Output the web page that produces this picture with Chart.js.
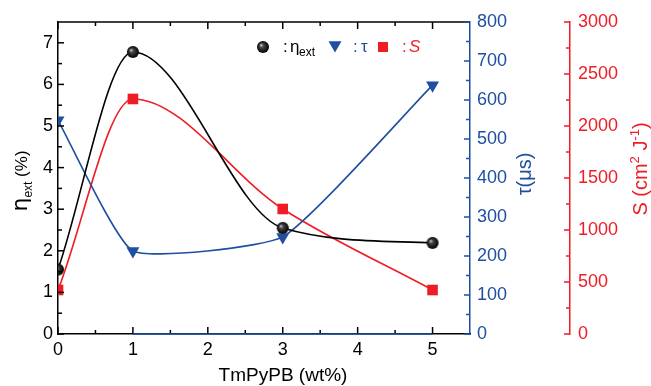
<!DOCTYPE html>
<html>
<head>
<meta charset="utf-8">
<script src="https://cdn.jsdelivr.net/npm/chart.js@4/dist/chart.umd.min.js"></script>
<style>
html,body{margin:0;padding:0;background:#fff;}
#wrap{width:651px;height:386px;position:relative;}
</style>
</head>
<body>
<div id="wrap"><canvas id="c" width="651" height="386"></canvas></div>
<script>
// ---- data ----
const xValues = [0, 1, 3, 5];              // TmPyPB (wt%)
const etaValues = [1.55, 6.78, 2.55, 2.19]; // eta_ext (%)
const tauValues = [548, 213, 249, 638];     // tau (us)
const sValues = [423, 2260, 1202, 423];     // S (cm2 J-1)
const xTicks = [0, 1, 2, 3, 4, 5];
const etaTicks = [0, 1, 2, 3, 4, 5, 6, 7];
const tauTicks = [0, 100, 200, 300, 400, 500, 600, 700, 800];
const sTicks = [0, 500, 1000, 1500, 2000, 2500, 3000];

const BLACK = '#000000';
const BLUE = '#1f4fa0';
const RED = '#ee1c25';
const FONT = "'Liberation Sans', Arial, sans-serif";

function makeSphere(r) {
  const c = document.createElement('canvas');
  c.width = c.height = r * 2 + 2;
  const g = c.getContext('2d');
  const cx = r + 1, cy = r + 1;
  const grad = g.createRadialGradient(cx - r * 0.35, cy - r * 0.35, 0, cx, cy, r);
  grad.addColorStop(0, '#d8d8d8');
  grad.addColorStop(0.35, '#444');
  grad.addColorStop(1, '#000');
  g.fillStyle = grad;
  g.beginPath(); g.arc(cx, cy, r, 0, Math.PI * 2); g.fill();
  return c;
}
const sphere = makeSphere(6);

function pts(vals) { return xValues.map((x, i) => ({x: x, y: vals[i]})); }

function drawTri(ctx, x, y, r, color) {
  ctx.fillStyle = color;
  ctx.beginPath();
  ctx.moveTo(x, y + r);
  ctx.lineTo(x - r * Math.sqrt(3) / 2, y - r / 2);
  ctx.lineTo(x + r * Math.sqrt(3) / 2, y - r / 2);
  ctx.closePath();
  ctx.fill();
}

function richWidth(ctx, parts) {
  let w = 0;
  for (const p of parts) { ctx.font = p.font; w += ctx.measureText(p.t).width; }
  return w;
}
function drawRich(ctx, parts, cx, cy, rot, color) {
  ctx.save();
  ctx.translate(cx, cy);
  if (rot) ctx.rotate(rot);
  const w = richWidth(ctx, parts);
  let x = -w / 2;
  ctx.fillStyle = color;
  ctx.textBaseline = 'alphabetic';
  ctx.textAlign = 'left';
  for (const p of parts) {
    ctx.font = p.font;
    ctx.fillText(p.t, x, (p.dy || 0));
    x += ctx.measureText(p.t).width;
  }
  ctx.restore();
}

const framePlugin = {
  id: 'frame',
  afterDatasetsDraw(chart) {
    const {ctx, chartArea: ca, scales} = chart;
    const sx = scales.x, sy = scales.y, s2 = scales.y2, s3 = scales.y3;
    const line = (x1, y1, x2, y2) => { ctx.beginPath(); ctx.moveTo(x1, y1); ctx.lineTo(x2, y2); ctx.stroke(); };
    ctx.save();
    ctx.lineWidth = 1.5;
    ctx.strokeStyle = BLACK;
    line(ca.left, ca.top, ca.right, ca.top);
    for (let v = 0; v <= 5.5001; v += 0.5) {
      const px = sx.getPixelForValue(v);
      const major = Math.abs(v - Math.round(v)) < 1e-6;
      const L = major ? 7 : 4;
      if (px > ca.right - 1) continue;
      line(px, ca.bottom, px, ca.bottom - L);
      line(px, ca.top, px, ca.top + L);
    }
    for (let v = 0; v <= 7.5001; v += 0.5) {
      const py = sy.getPixelForValue(v);
      const major = Math.abs(v - Math.round(v)) < 1e-6;
      if (py < ca.top + 1) continue;
      line(ca.left, py, ca.left + (major ? 6 : 4), py);
    }
    ctx.strokeStyle = BLUE;
    line(sx.getPixelForValue(1), ca.bottom, sx.getPixelForValue(5), ca.bottom);
    for (let v = 0; v <= 800; v += 50) {
      const py = s2.getPixelForValue(v);
      const major = v % 100 === 0;
      line(s2.left, py, s2.left - (major ? 6 : 4), py);
    }
    ctx.strokeStyle = RED;
    for (let v = 0; v <= 3000; v += 250) {
      const py = s3.getPixelForValue(v);
      const major = v % 500 === 0;
      line(s3.left, py, s3.left - (major ? 6 : 4), py);
    }
    ctx.restore();

    const big = '20px ' + FONT, small = '13px ' + FONT;
    drawRich(ctx, [
      {t: 'η', font: "22px 'DejaVu Sans', sans-serif"},
      {t: 'ext', font: '12px ' + FONT, dy: 5},
      {t: ' (%)', font: '17px ' + FONT}
    ], 27, 181, -Math.PI / 2, BLACK);
    drawRich(ctx, [{t: 'τ(μs)', font: big}], 531, 174, -Math.PI / 2, BLUE);
    drawRich(ctx, [
      {t: 'S (cm', font: big},
      {t: '2', font: small, dy: -8},
      {t: ' J', font: big},
      {t: '-1', font: small, dy: -8},
      {t: ')', font: big}
    ], 647, 169, -Math.PI / 2, RED);
    drawRich(ctx, [{t: 'TmPyPB (wt%)', font: '19px ' + FONT}], 283, 381, 0, BLACK);

    const lf = '17px ' + FONT, ls = '12px ' + FONT;
    const ly = 47;
    ctx.drawImage(sphere, 263 - sphere.width / 2, ly - sphere.height / 2);
    ctx.save();
    ctx.textBaseline = 'middle';
    ctx.fillStyle = BLACK;
    ctx.font = lf; ctx.fillText(':', 283, ly);
    ctx.fillText('η', 290, ly);
    ctx.font = ls; ctx.fillText('ext', 299, ly + 6);
    drawTri(ctx, 335, ly - 2, 7.5, BLUE);
    ctx.fillStyle = BLUE;
    ctx.font = lf; ctx.fillText(':', 353, ly); ctx.fillText('τ', 361, ly);
    ctx.fillStyle = RED;
    ctx.fillRect(378, ly - 5, 10, 10);
    ctx.fillText(':', 402, ly);
    ctx.font = 'italic ' + lf; ctx.fillText('S', 409, ly);
    ctx.restore();
  }
};

const tickFont = {family: FONT, size: 18};

new Chart(document.getElementById('c'), {
  type: 'line',
  data: {
    datasets: [
      {
        label: 'eta', data: pts(etaValues), yAxisID: 'y',
        borderColor: BLACK, borderWidth: 1.6, cubicInterpolationMode: 'monotone',
        pointStyle: sphere, pointRadius: 6, fill: false
      },
      {
        label: 'tau', data: pts(tauValues), yAxisID: 'y2',
        borderColor: BLUE, backgroundColor: BLUE, borderWidth: 1.6, tension: 0.15,
        pointStyle: 'triangle', rotation: 180, pointRadius: 7.5, pointBorderWidth: 0, fill: false
      },
      {
        label: 'S', data: pts(sValues), yAxisID: 'y3',
        borderColor: RED, backgroundColor: RED, borderWidth: 1.6, cubicInterpolationMode: 'monotone',
        pointStyle: 'rect', pointRadius: 7.5, pointBorderWidth: 0, fill: false
      }
    ]
  },
  options: {
    responsive: false,
    animation: false,
    devicePixelRatio: 1,
    layout: {padding: {top: 22, left: 0, right: 0, bottom: 0}},
    plugins: {legend: {display: false}, tooltip: {enabled: false}},
    scales: {
      x: {
        type: 'linear', position: 'bottom', min: 0, max: 5.5,
        grid: {display: false, drawTicks: false},
        border: {display: true, color: BLACK, width: 1.5},
        ticks: {color: BLACK, font: tickFont, padding: 5, maxRotation: 0, callback: v => String(v)},
        afterBuildTicks: s => { s.ticks = xTicks.map(v => ({value: v})); },
        afterFit: s => { s.height = 52; }
      },
      y: {
        type: 'linear', position: 'left', min: 0, max: 7.5,
        grid: {display: false, drawTicks: false},
        border: {display: true, color: BLACK, width: 1.5},
        ticks: {color: BLACK, font: tickFont, padding: 5, callback: v => String(v)},
        afterBuildTicks: s => { s.ticks = etaTicks.map(v => ({value: v})); },
        afterFit: s => { s.width = 58; }
      },
      y2: {
        type: 'linear', position: 'right', weight: 1, min: 0, max: 800,
        grid: {display: false, drawTicks: false},
        border: {display: true, color: BLUE, width: 1.5},
        ticks: {color: BLUE, font: tickFont, padding: 7, callback: v => String(v)},
        afterBuildTicks: s => { s.ticks = tauTicks.map(v => ({value: v})); },
        afterFit: s => { s.width = 100; }
      },
      y3: {
        type: 'linear', position: 'right', weight: 2, min: 0, max: 3000,
        grid: {display: false, drawTicks: false},
        border: {display: true, color: RED, width: 1.5},
        ticks: {color: RED, font: tickFont, padding: 8, callback: v => String(v)},
        afterBuildTicks: s => { s.ticks = sTicks.map(v => ({value: v})); },
        afterFit: s => { s.width = 81; }
      }
    }
  },
  plugins: [framePlugin]
});
</script>
</body>
</html>
